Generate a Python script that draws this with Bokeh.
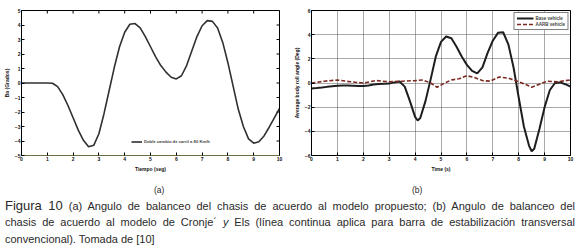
import math
from bokeh.plotting import figure
from bokeh.models import Range1d, Legend, LegendItem, Div, FixedTicker
from bokeh.layouts import row, column
from bokeh.embed import file_html
from bokeh.resources import INLINE

# ---- data (a): modelo propuesto ----
t_a = [0, 0.2, 0.4, 0.6, 0.8, 1.0, 1.2, 1.4, 1.6, 1.8, 2.0, 2.2, 2.4, 2.6, 2.8,
       3.0, 3.2, 3.4, 3.6, 3.8, 4.0, 4.2, 4.4, 4.6, 4.8, 5.0, 5.2, 5.4, 5.6, 5.8,
       6.0, 6.2, 6.4, 6.6, 6.8, 7.0, 7.2, 7.4, 7.6, 7.8, 8.0, 8.2, 8.4, 8.6, 8.8,
       9.0, 9.2, 9.4, 9.6, 9.8, 10.0]
roll_a = [0, 0, 0, 0, 0, 0, -0.02, -0.25, -0.8, -1.55, -2.4, -3.25, -3.95, -4.4, -4.3,
          -3.5, -2.1, -0.5, 1.1, 2.5, 3.5, 4.05, 4.1, 3.8, 3.2, 2.5, 1.8, 1.2, 0.75, 0.4,
          0.28, 0.5, 1.2, 2.2, 3.2, 3.95, 4.3, 4.25, 3.8, 2.8, 1.4, -0.2, -1.8, -3.0, -3.85,
          -4.15, -4.05, -3.65, -3.05, -2.4, -1.75]

# ---- data (b): Cronje & Els ----
t_base = [0, 0.2, 0.4, 0.6, 0.8, 1.0, 1.2, 1.4, 1.6, 1.8, 2.0, 2.2, 2.4, 2.6, 2.8,
          3.0, 3.2, 3.4, 3.6, 3.8, 4.0, 4.1, 4.2, 4.4, 4.6, 4.8, 5.0, 5.2, 5.4, 5.6,
          5.8, 6.0, 6.2, 6.4, 6.6, 6.8, 7.0, 7.2, 7.4, 7.6, 7.8, 8.0, 8.2, 8.4, 8.5,
          8.6, 8.8, 9.0, 9.2, 9.4, 9.6, 9.8, 10.0]
roll_base = [-0.45, -0.42, -0.38, -0.32, -0.27, -0.22, -0.2, -0.2, -0.22, -0.25, -0.25, -0.2, -0.12, -0.08, -0.06,
             -0.05, 0.05, 0.12, -0.3, -1.5, -2.8, -3.1, -2.9, -1.5, 0.3, 2.2, 3.4, 3.85, 3.7, 3.0,
             2.2, 1.5, 1.0, 0.8, 1.3, 2.5, 3.5, 4.15, 4.2, 3.2, 1.3, -1.2, -3.6, -5.2, -5.65,
             -5.45, -3.8, -2.0, -0.6, 0.0, 0.05, -0.1, -0.3]
t_aarb = [0, 0.5, 1.0, 1.5, 2.0, 2.5, 3.0, 3.5, 4.0, 4.3, 4.6, 4.85, 5.1, 5.4, 5.7,
          6.0, 6.3, 6.6, 6.9, 7.25, 7.6, 8.0, 8.3, 8.5, 8.8, 9.1, 9.5, 10.0]
roll_aarb = [0.0, 0.15, 0.25, 0.1, 0.0, 0.2, 0.1, 0.15, 0.2, 0.25, 0.0, -0.35, -0.05, 0.25, 0.35,
             0.6, 0.45, 0.2, 0.15, 0.5, 0.4, 0.1, -0.15, -0.35, -0.1, 0.15, 0.1, 0.25]

x_ticks = list(range(0, 11))
y_ticks_a = list(range(-5, 6))
y_ticks_b = list(range(-6, 7, 2))

FONT = "Liberation Sans"


def style_axis(ax, ticks):
    ax.ticker = FixedTicker(ticks=ticks)
    ax.axis_line_color = "black"
    ax.major_tick_in = 3
    ax.major_tick_out = 0
    ax.minor_tick_line_color = None
    ax.major_tick_line_color = "black"
    ax.major_label_text_font = FONT
    ax.major_label_text_font_style = "bold"
    ax.major_label_text_font_size = "5px"
    ax.major_label_text_color = "#111111"
    ax.major_label_standoff = 1
    ax.axis_label_text_font = FONT
    ax.axis_label_text_font_style = "bold"
    ax.axis_label_text_font_size = "5px"
    ax.axis_label_text_color = "#111111"
    ax.axis_label_standoff = 2


# ---- figure (a) ----
p1 = figure(width=290, height=179, x_range=Range1d(0, 10), y_range=Range1d(-5, 5),
            output_backend="svg", toolbar_location=None,
            min_border_left=4, min_border_right=11, min_border_top=9, min_border_bottom=23)
p1.grid.visible = False
p1.outline_line_color = "black"
p1.xaxis.axis_label = "Tiempo (seg)"
p1.yaxis.axis_label = "Ba (Grados)"
style_axis(p1.xaxis[0], x_ticks)
style_axis(p1.yaxis[0], y_ticks_a)
p1.xaxis.axis_line_color = "#6e6e45"
# inward tick marks on the top and right edges of the box
p1.scatter(x_ticks, [p1.y_range.end] * len(x_ticks), marker="dash", size=6,
           angle=math.pi / 2, line_color="black", line_width=1)
p1.scatter([p1.x_range.end] * len(y_ticks_a), y_ticks_a, marker="dash", size=6,
           line_color="black", line_width=1)
ra = p1.line(t_a, roll_a, line_color="#303030", line_width=1.6)
leg1 = Legend(items=[LegendItem(label="Doble cambio de carril a 80 Km/h", renderers=[ra])],
              location=(110, 11), border_line_color=None, background_fill_alpha=0,
              label_text_font=FONT, label_text_font_style="bold", label_text_font_size="4.2px",
              glyph_width=11, glyph_height=5, label_height=5, padding=1, margin=0,
              label_standoff=2)
p1.add_layout(leg1)

# ---- figure (b) ----
p2 = figure(width=288, height=179, x_range=Range1d(0, 10), y_range=Range1d(-6, 6),
            output_backend="svg", toolbar_location=None,
            min_border_left=12, min_border_right=8, min_border_top=10, min_border_bottom=24)
p2.outline_line_color = "black"
p2.xaxis.axis_label = "Time (s)"
p2.yaxis.axis_label = "Average body roll angle (Deg)"
style_axis(p2.xaxis[0], x_ticks)
style_axis(p2.yaxis[0], y_ticks_b)
p2.xgrid.ticker = FixedTicker(ticks=x_ticks)
p2.ygrid.ticker = FixedTicker(ticks=y_ticks_b)
p2.grid.grid_line_color = "#555555"
p2.grid.grid_line_dash = "1 1"
p2.grid.grid_line_width = 1
rb = p2.line(t_base, roll_base, line_color="#1e1e1e", line_width=2)
rc = p2.line(t_aarb, roll_aarb, line_color="#7a2a20", line_width=1.6, line_dash="4 2")
leg2 = Legend(items=[LegendItem(label="Base vehicle", renderers=[rb]),
                     LegendItem(label="AARB vehicle", renderers=[rc])],
              location="top_right", border_line_color="black", border_line_width=1,
              background_fill_color="white", background_fill_alpha=1,
              label_text_font=FONT, label_text_font_style="bold", label_text_font_size="4.5px",
              glyph_width=17, glyph_height=6, label_height=6, spacing=0, padding=2, margin=2,
              label_standoff=2)
p2.add_layout(leg2)

LINE = "font-size:11px;line-height:17px;height:17px;width:570px;padding-left:0px;white-space:nowrap;"
caption = f"""
<div style="width:578px;font-family:'Liberation Sans',Arial,sans-serif;color:#2a2a2a;">
  <div style="position:relative;height:13px;font-size:8.5px;line-height:13px;">
    <span style="position:absolute;left:149px;top:0px;">(a)</span>
    <span style="position:absolute;left:407px;top:0px;">(b)</span>
  </div>
  <div style="{LINE}text-align:justify;text-align-last:justify;">
    <span style="font-size:13px;">Figura 10</span> (a) Angulo de balanceo del chasis de acuerdo al modelo propuesto; (b) Angulo de balanceo del</div>
  <div style="{LINE}text-align:justify;text-align-last:justify;">
    chasis de acuerdo al modelo de Cronje&#180; <i>y</i> Els (l&#237;nea continua aplica para barra de estabilizaci&#243;n transversal</div>
  <div style="{LINE}">convencional). Tomada de [10]</div>
</div>
"""
div = Div(text=caption, width=578, height=72)

layout = column(row(p1, p2), div)
open("out.html", "w").write(file_html(layout, INLINE))
